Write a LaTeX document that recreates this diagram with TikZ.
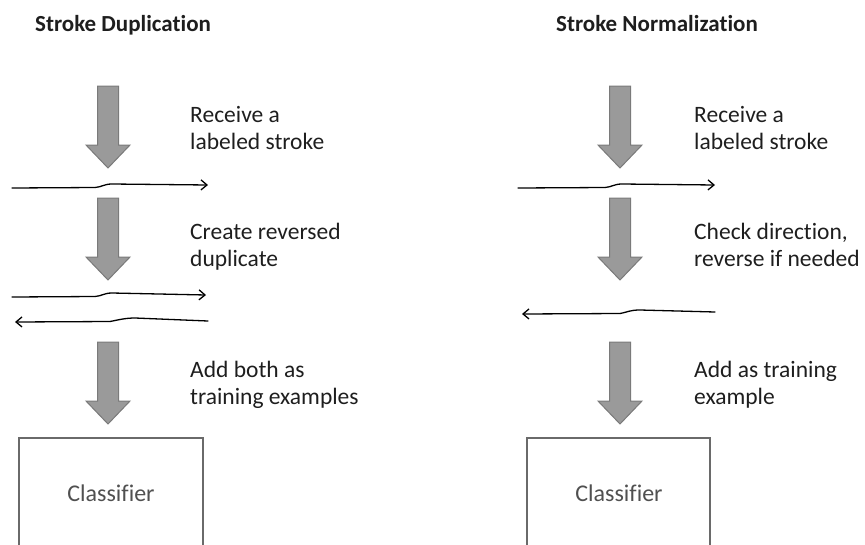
\documentclass[tikz,border=0pt]{standalone}
\usepackage{fontspec}
\setmainfont[RawFeature={-liga;-dlig;-clig}]{Carlito}
\usetikzlibrary{arrows.meta}
\definecolor{arrowfill}{HTML}{9A9A9A}
\definecolor{arrowedge}{HTML}{7A7A7A}
\definecolor{boxedge}{HTML}{6A6A6A}
\definecolor{txt}{HTML}{1E1E1E}
\definecolor{clstxt}{HTML}{505050}
\tikzset{
  title/.style={font=\fontsize{23}{27}\selectfont\bfseries, text=txt, anchor=base west, inner sep=0pt},
  label/.style={font=\fontsize{23.5}{27}\selectfont, text=txt, anchor=base west, inner sep=0pt, align=left},
  clslabel/.style={font=\fontsize{24}{28}\selectfont, text=clstxt, inner sep=0pt},
  stroke/.style={line width=1.3pt, black, line cap=round, -{Straight Barb[length=6pt,width=10pt,line width=1.3pt]}},
  boxline/.style={draw=boxedge, line width=2pt},
  pics/bigarrow/.style={code={
    \draw[fill=arrowfill, draw=arrowedge, line width=1pt]
      (-10.5,0) -- (10.5,0) -- (10.5,59) -- (22,59) -- (0,82) -- (-22,59) -- (-10.5,59) -- cycle;
  }}
}
\begin{document}
\begin{tikzpicture}[x=1pt, y=-1pt]
\useasboundingbox (0,0) rectangle (865,544);

% titles
\node[title] (t1) at (35,31) {Stroke Duplication};
\node[title] (t2) at (556,31) {Stroke Normalization};

% left column
\pic at (108,86) {bigarrow};
\pic at (108,198) {bigarrow};
\pic at (108,342) {bigarrow};

\node[label] (l1) at (190,149) {Receive a\\labeled stroke};
\node[label] (l2) at (190,266) {Create reversed\\duplicate};
\node[label] (l3) at (190,404) {Add both as\\training examples};

\coordinate (s1a) at (12,188);
\coordinate (s1b) at (208,185);
\draw[stroke] (s1a) -- (95,187.5) .. controls (102,187) and (104,184) .. (112,184) -- (s1b);

\coordinate (s2a) at (12,297);
\coordinate (s2b) at (206,295);
\draw[stroke] (s2a) -- (95,296.5) .. controls (102,296) and (104,293) .. (112,293) -- (s2b);

\coordinate (s3a) at (208,321);
\coordinate (s3b) at (15,322);
\draw[stroke] (s3a) -- (135,318) .. controls (125,318) and (118,320) .. (110,321.5) -- (s3b);

\draw[boxline] (19,546) -- (19,438) -- (203,438) -- (203,546);
\node[clslabel] (c1) at (111,493) {Classifier};

% right column
\pic at (620,86) {bigarrow};
\pic at (620,198) {bigarrow};
\pic at (620,342) {bigarrow};

\node[label] (r1) at (694,149) {Receive a\\labeled stroke};
\node[label] (r2) at (694,266) {Check direction,\\reverse if needed};
\node[label] (r3) at (694,404) {Add as training\\example};

\coordinate (q1a) at (518,188);
\coordinate (q1b) at (715,185);
\draw[stroke] (q1a) -- (605,187.5) .. controls (612,187) and (614,184) .. (622,184) -- (q1b);

\coordinate (q2a) at (715,312);
\coordinate (q2b) at (522,314);
\draw[stroke] (q2a) -- (640,310) .. controls (630,310) and (628,312) .. (620,313.5) -- (q2b);

\draw[boxline] (527,546) -- (527,438) -- (710,438) -- (710,546);
\node[clslabel] (c2) at (619,493) {Classifier};
\end{tikzpicture}
\end{document}
